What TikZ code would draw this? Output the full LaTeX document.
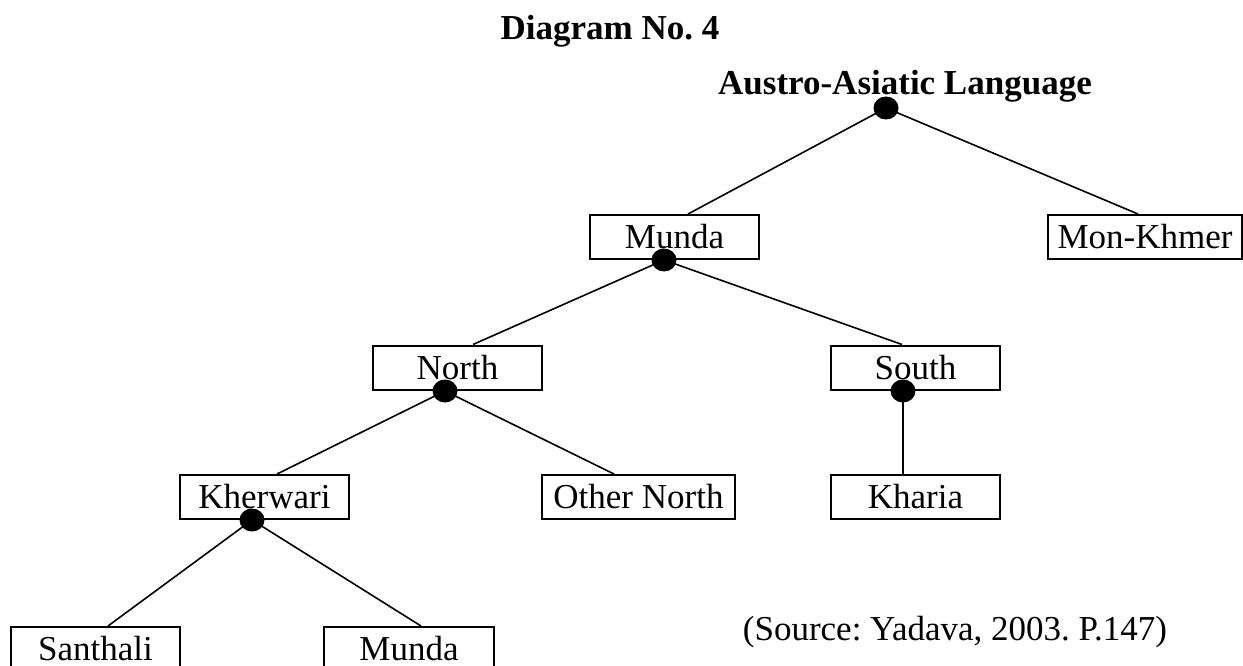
\documentclass[tikz,border=0pt]{standalone}
\usepackage{fontspec}
\setmainfont{Liberation Serif}
\frenchspacing
\tikzset{
  head/.style={font=\fontsize{35}{42}\selectfont\bfseries, anchor=base},
  lang/.style={draw, line width=2pt, minimum width=169pt, minimum height=44pt, inner sep=0pt},
  dot/.style={ellipse, fill, inner sep=0pt, minimum width=25pt, minimum height=23pt},
  link/.style={line width=1.6pt}
}
\usetikzlibrary{shapes.geometric}

\begin{document}
\begin{tikzpicture}[x=1pt, y=-1pt, font=\fontsize{35}{42}\selectfont]
	\useasboundingbox (0,0) rectangle (1243,666);
	% headings
	\node[head] (title) at (610,40) {Diagram No. 4};
	\node[head] (root) at (905,95) {Austro-Asiatic Language};
	% boxes
	\node[lang] (munda) at (674.5,237) {Munda};
	\node[lang, minimum width=194pt] (monkhmer) at (1145,237) {Mon-Khmer};
	\node[lang] (north) at (457.5,367.5) {North};
	\node[lang] (south) at (915.5,367.5) {South};
	\node[lang] (kherwari) at (264.5,497) {Kherwari};
	\node[lang, minimum width=193pt] (othernorth) at (638.5,497) {Other North};
	\node[lang] (kharia) at (915.5,497) {Kharia};
	\node[lang] (santhali) at (95.5,649) {Santhali};
	\node[lang, minimum width=170pt] (mundab) at (409,649) {Munda};
	% branch points
	\node[dot] (d0) at (886,108) {};
	\node[dot] (dm) at (664,260) {};
	\node[dot] (dn) at (445,391) {};
	\node[dot] (ds) at (903,391) {};
	\node[dot] (dk) at (252,520) {};
	% branches
	\draw[link] (d0.center) -- ([xshift=13.5pt]munda.north);
	\draw[link] (d0.center) -- ([xshift=-7pt]monkhmer.north);
	\draw[link] (dm.center) -- ([xshift=15.5pt]north.north);
	\draw[link] (dm.center) -- ([xshift=-13.5pt]south.north);
	\draw[link] (dn.center) -- ([xshift=12.5pt]kherwari.north);
	\draw[link] (dn.center) -- ([xshift=-24.5pt]othernorth.north);
	\draw[link] (ds.center) -- (ds |- kharia.north);
	\draw[link] (dk.center) -- ([xshift=12.5pt]santhali.north);
	\draw[link] (dk.center) -- ([xshift=12pt]mundab.north);
	% source
	\node[anchor=base] (source) at (955,640) {(Source: Yadava, 2003. P.147)};
\end{tikzpicture}
\end{document}
